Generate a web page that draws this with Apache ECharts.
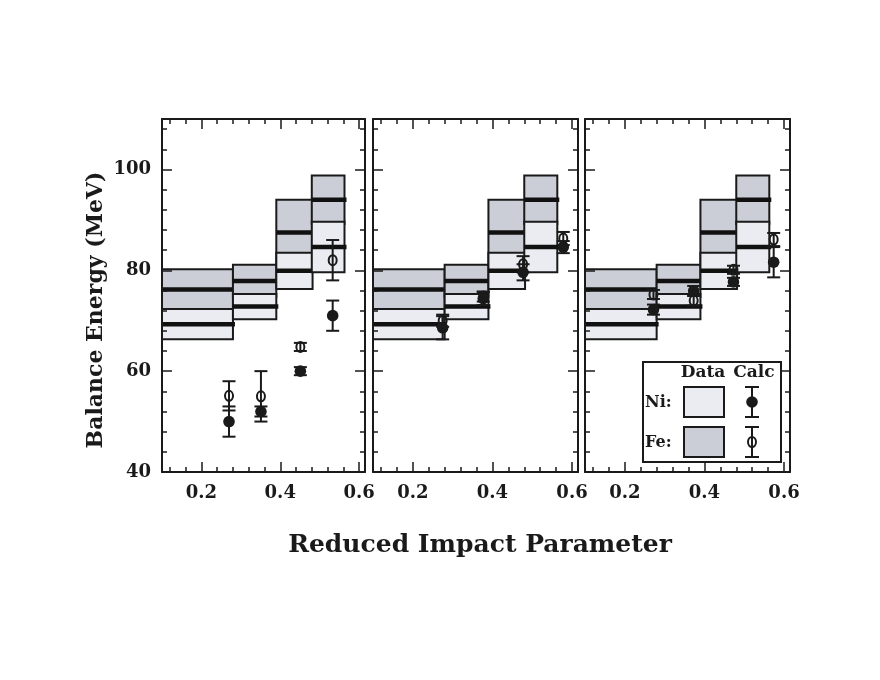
<!DOCTYPE html>
<html>
<head>
<meta charset="utf-8">
<script src="https://cdn.jsdelivr.net/npm/echarts@6/dist/echarts.min.js"></script>
<style>
  html, body { margin: 0; padding: 0; background: #fff; }
  #main { width: 880px; height: 680px; }
</style>
</head>
<body>
<div id="main"></div>
<script>
// bins of the measured data (boxes)
var binLo = [0.1, 0.28, 0.39, 0.48];
var binHi = [0.28, 0.39, 0.482, 0.563];
var feMid = [76.2, 77.9, 87.5, 94.0];
var feErr = [4.0, 3.2, 6.5, 4.8];
var niMid = [69.3, 72.8, 79.9, 84.6];
var niErr = [3.0, 2.5, 3.6, 5.0];

// calculations, one row per panel
var calcX = [
  [0.270, 0.351, 0.451, 0.533],
  [0.275, 0.377, 0.477, 0.578],
  [0.272, 0.373, 0.473, 0.574]
];
var niCalc = [
  [50.0, 52.0, 60.0, 71.0],
  [68.6, 74.4, 79.6, 84.6],
  [72.2, 75.9, 77.7, 81.6]
];
var niCalcErr = [
  [3.0, 1.0, 0.8, 3.0],
  [2.3, 1.3, 1.6, 1.2],
  [1.0, 1.0, 0.8, 3.0]
];
var feCalc = [
  [55.1, 55.0, 64.8, 82.0],
  [70.0, 74.8, 81.2, 86.3],
  [75.2, 74.0, 80.1, 86.1]
];
var feCalcErr = [
  [2.9, 5.0, 0.8, 4.0],
  [1.2, 1.0, 1.6, 1.3],
  [0.9, 1.0, 0.8, 1.3]
];

// ticks
var xMajor = [0.2, 0.4, 0.6];
var xMinor = [0.12, 0.16, 0.2, 0.24, 0.28, 0.32, 0.36, 0.4, 0.44, 0.48, 0.52, 0.56, 0.6];
var yMajor = [40, 60, 80, 100];
var yMinor = [44, 48, 52, 56, 60, 64, 68, 72, 76, 80, 84, 88, 92, 96, 100, 104, 108];

var xMin = 0.1, xMax = 0.615, yMin = 40, yMax = 110;
var FONT = 'DejaVu Serif';
var INK = '#1a1a1a';
var NI_FILL = '#eaecf1';
var FE_FILL = '#cbced6';

var grids = [
  {left: 162, top: 119, width: 203, height: 353},
  {left: 373, top: 119, width: 205, height: 353},
  {left: 585, top: 119, width: 205, height: 353}
];

function xAx(g, pos, ticks, len, labels, line) {
  return {
    gridIndex: g, type: 'value', min: xMin, max: xMax, position: pos, z: 10,
    axisLine: {show: line, onZero: false, lineStyle: {color: INK, width: 2}},
    axisTick: {show: true, inside: true, length: len, customValues: ticks, lineStyle: {color: INK, width: 1.5}},
    axisLabel: labels ? {
      show: true, customValues: xMajor, margin: 12,
      formatter: function (v) { return v.toFixed(1); },
      fontFamily: FONT, fontSize: 18, fontWeight: 'bold', color: INK
    } : {show: false},
    splitLine: {show: false}
  };
}
function yAx(g, pos, ticks, len, labels, line) {
  return {
    gridIndex: g, type: 'value', min: yMin, max: yMax, position: pos, z: 10,
    axisLine: {show: line, onZero: false, lineStyle: {color: INK, width: 2}},
    axisTick: {show: true, inside: true, length: len, customValues: ticks, lineStyle: {color: INK, width: 1.5}},
    axisLabel: labels ? {
      show: true, customValues: yMajor, margin: 11,
      fontFamily: FONT, fontSize: 18, fontWeight: 'bold', color: INK
    } : {show: false},
    splitLine: {show: false}
  };
}

var xAxes = [], yAxes = [], series = [];

function boxItem(fill) {
  return function (params, api) {
    var lo = api.value(0), hi = api.value(1), mid = api.value(2), e = api.value(3);
    var a = api.coord([lo, mid + e]);
    var b = api.coord([hi, mid - e]);
    var m = api.coord([lo, mid]);
    return {
      type: 'group',
      children: [
        {type: 'rect', shape: {x: a[0], y: a[1], width: b[0] - a[0], height: b[1] - a[1]},
         style: {fill: fill, stroke: INK, lineWidth: 2}},
        {type: 'line', shape: {x1: a[0], y1: m[1], x2: b[0] + 2, y2: m[1]},
         style: {stroke: '#111', lineWidth: 4.5}}
      ]
    };
  };
}

function calcItem(filled) {
  return function (params, api) {
    var x = api.value(0), y = api.value(1), e = api.value(2);
    var c = api.coord([x, y]);
    var t = api.coord([x, y + e]);
    var b = api.coord([x, y - e]);
    var cap = 6.5;
    var kids = [
      {type: 'line', shape: {x1: c[0], y1: t[1], x2: c[0], y2: b[1]}, style: {stroke: INK, lineWidth: 2}},
      {type: 'line', shape: {x1: c[0] - cap, y1: t[1], x2: c[0] + cap, y2: t[1]}, style: {stroke: INK, lineWidth: 2}},
      {type: 'line', shape: {x1: c[0] - cap, y1: b[1], x2: c[0] + cap, y2: b[1]}, style: {stroke: INK, lineWidth: 2}}
    ];
    if (filled) {
      kids.push({type: 'circle', shape: {cx: c[0], cy: c[1], r: 5.8}, style: {fill: INK}});
    } else {
      kids.push({type: 'ellipse', shape: {cx: c[0], cy: c[1], rx: 4, ry: 5}, style: {fill: 'none', stroke: INK, lineWidth: 2}});
    }
    return {type: 'group', children: kids};
  };
}

for (var p = 0; p < 3; p++) {
  xAxes.push(xAx(p, 'bottom', xMajor, 10, true, true));
  xAxes.push(xAx(p, 'bottom', xMinor, 5, false, false));
  xAxes.push(xAx(p, 'top', xMajor, 10, false, true));
  xAxes.push(xAx(p, 'top', xMinor, 5, false, false));
  yAxes.push(yAx(p, 'left', yMajor, 10, p === 0, true));
  yAxes.push(yAx(p, 'left', yMinor, 5, false, false));
  yAxes.push(yAx(p, 'right', yMajor, 10, false, true));
  yAxes.push(yAx(p, 'right', yMinor, 5, false, false));

  var feBoxes = [], niBoxes = [], feC = [], niC = [];
  for (var i = 0; i < binLo.length; i++) {
    feBoxes.push([binLo[i], binHi[i], feMid[i], feErr[i]]);
    niBoxes.push([binLo[i], binHi[i], niMid[i], niErr[i]]);
    feC.push([calcX[p][i], feCalc[p][i], feCalcErr[p][i]]);
    niC.push([calcX[p][i], niCalc[p][i], niCalcErr[p][i]]);
  }
  series.push({type: 'custom', name: 'Fe data', xAxisIndex: 4 * p, yAxisIndex: 4 * p, clip: true,
    renderItem: boxItem(FE_FILL), data: feBoxes, z: 2});
  series.push({type: 'custom', name: 'Ni data', xAxisIndex: 4 * p, yAxisIndex: 4 * p, clip: true,
    renderItem: boxItem(NI_FILL), data: niBoxes, z: 3});
  series.push({type: 'custom', name: 'Fe calc', xAxisIndex: 4 * p, yAxisIndex: 4 * p,
    renderItem: calcItem(false), data: feC, z: 4});
  series.push({type: 'custom', name: 'Ni calc', xAxisIndex: 4 * p, yAxisIndex: 4 * p,
    renderItem: calcItem(true), data: niC, z: 5});
}

// legend box in the third panel
var legend = [
  {type: 'rect', shape: {x: 643, y: 362, width: 138, height: 100}, style: {fill: '#fff', stroke: INK, lineWidth: 2}},
  {type: 'text', x: 703, y: 373, style: {text: 'Data', font: 'bold 17px "DejaVu Serif"', fill: INK, align: 'center', verticalAlign: 'middle'}},
  {type: 'text', x: 754, y: 373, style: {text: 'Calc', font: 'bold 17px "DejaVu Serif"', fill: INK, align: 'center', verticalAlign: 'middle'}},
  {type: 'text', x: 645, y: 403, style: {text: 'Ni:', font: 'bold 16px "DejaVu Serif"', fill: INK, verticalAlign: 'middle'}},
  {type: 'text', x: 645, y: 443, style: {text: 'Fe:', font: 'bold 16px "DejaVu Serif"', fill: INK, verticalAlign: 'middle'}},
  {type: 'rect', shape: {x: 684, y: 387, width: 40, height: 30}, style: {fill: NI_FILL, stroke: INK, lineWidth: 2}},
  {type: 'rect', shape: {x: 684, y: 427, width: 40, height: 30}, style: {fill: FE_FILL, stroke: INK, lineWidth: 2}},
  {type: 'line', shape: {x1: 752, y1: 387, x2: 752, y2: 417}, style: {stroke: INK, lineWidth: 2}},
  {type: 'line', shape: {x1: 745, y1: 387, x2: 759, y2: 387}, style: {stroke: INK, lineWidth: 2}},
  {type: 'line', shape: {x1: 745, y1: 417, x2: 759, y2: 417}, style: {stroke: INK, lineWidth: 2}},
  {type: 'circle', shape: {cx: 752, cy: 402, r: 5.8}, style: {fill: INK}},
  {type: 'line', shape: {x1: 752, y1: 427, x2: 752, y2: 457}, style: {stroke: INK, lineWidth: 2}},
  {type: 'line', shape: {x1: 745, y1: 427, x2: 759, y2: 427}, style: {stroke: INK, lineWidth: 2}},
  {type: 'line', shape: {x1: 745, y1: 457, x2: 759, y2: 457}, style: {stroke: INK, lineWidth: 2}},
  {type: 'ellipse', shape: {cx: 752, cy: 442, rx: 4, ry: 5}, style: {fill: 'none', stroke: INK, lineWidth: 2}}
];
for (var k = 0; k < legend.length; k++) legend[k].z = 100;

var titles = [
  {type: 'text', x: 480, y: 545, z: 100,
   style: {text: 'Reduced Impact Parameter', font: 'bold 25px "DejaVu Serif"', fill: INK, align: 'center', verticalAlign: 'middle'}},
  {type: 'text', x: 96, y: 310, z: 100, rotation: Math.PI / 2,
   style: {text: 'Balance Energy (MeV)', font: 'bold 22px "DejaVu Serif"', fill: INK, align: 'center', verticalAlign: 'middle'}}
];

var myChart = echarts.init(document.getElementById('main'), null, {renderer: 'canvas'});
var option = {
  backgroundColor: '#fff',
  animation: false,
  grid: grids,
  xAxis: xAxes,
  yAxis: yAxes,
  series: series,
  graphic: titles.concat(legend)
};
myChart.setOption(option);
</script>
</body>
</html>
